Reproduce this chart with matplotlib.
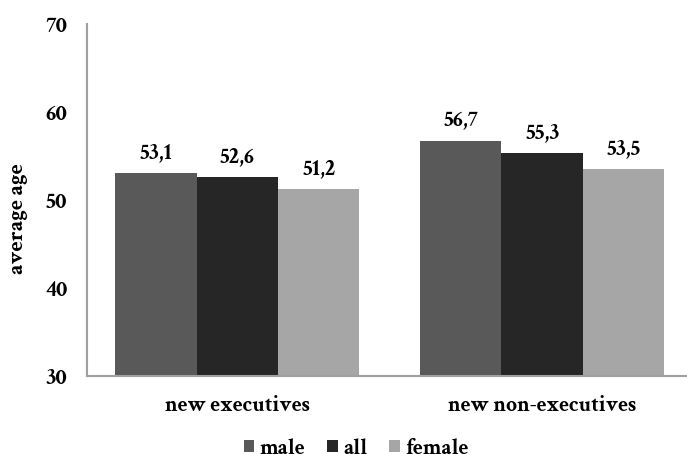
import matplotlib
matplotlib.use("Agg")
import matplotlib.pyplot as plt
from matplotlib import font_manager as fm
import numpy as np

categories = ["new executives", "new non-executives"]
series_names = ["male", "all", "female"]
male = [53.1, 56.7]
all_ = [52.6, 55.3]
female = [51.2, 53.5]
colors = ["#595959", "#262626", "#a6a6a6"]


def pick_bold_serif(candidates):
    """Return the first family that ships a static bold face."""
    for fam in candidates:
        for f in fm.fontManager.ttflist:
            if f.name == fam and f.style == "normal" and int(f.weight) >= 700 \
                    and "[" not in f.fname:
                return fam
    return "DejaVu Serif"


MAIN = pick_bold_serif(["Crimson Text", "Cormorant Garamond", "Spectral", "Liberation Serif"])
FAMILY = [MAIN, "DejaVu Serif"]
plt.rcParams["font.family"] = FAMILY
plt.rcParams["font.weight"] = "bold"

fig = plt.figure(figsize=(6.87, 4.54), dpi=100)
ax = fig.add_axes([0.1266, 0.172, 0.88, 0.775])

x = np.arange(len(categories))
w = 0.267
values = [male, all_, female]
for i, (name, vals, c) in enumerate(zip(series_names, values, colors)):
    pos = x + (i - 1) * w
    ax.bar(pos, np.array(vals) - 30, width=w, bottom=30, color=c, label=name)
    for p, v in zip(pos, vals):
        ax.text(p, v + 1.1, f"{v:.1f}".replace(".", ","), ha="center", va="bottom",
                fontsize=16, fontweight="bold", family=FAMILY)

ax.set_ylim(30, 70)
ax.set_xlim(-0.493, 1.49)
ax.set_yticks([30, 40, 50, 60, 70])
ax.set_xticks(x)
ax.set_xticklabels(categories, fontsize=15.5, fontweight="bold", family=FAMILY)
ax.tick_params(axis="both", length=0)
ax.tick_params(axis="x", pad=14)
ax.tick_params(axis="y", pad=14, labelsize=16.5)
for lbl in ax.get_yticklabels():
    lbl.set_fontweight("bold")
    lbl.set_family(FAMILY)
ax.set_ylabel("average age", fontsize=16, fontweight="bold", family=FAMILY)
ax.yaxis.set_label_coords(-0.098, 0.446)

for s in ["top", "right"]:
    ax.spines[s].set_visible(False)
for s in ["left", "bottom"]:
    ax.spines[s].set_color("#a0a0a0")
    ax.spines[s].set_linewidth(1.5)

ax.legend(loc="lower center", bbox_to_anchor=(0.445, -0.29), ncol=3, frameon=False,
          handlelength=0.5, handleheight=0.5, handletextpad=0.25,
          columnspacing=1.0, prop={"family": FAMILY, "weight": "bold", "size": 15.5})

fig.savefig("out.png", dpi=100)
